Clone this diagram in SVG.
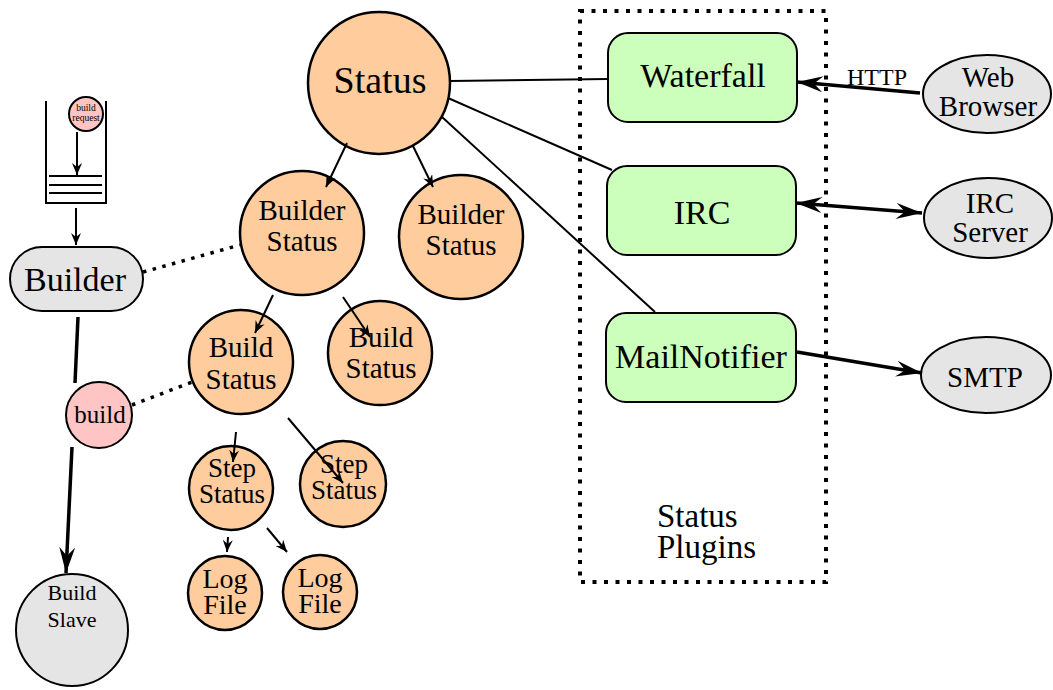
<svg xmlns="http://www.w3.org/2000/svg" width="1053" height="690" viewBox="0 0 1053 690" font-family="'Liberation Serif', 'DejaVu Serif', serif">
<defs>
<style>
text{font-family:"Liberation Serif","DejaVu Serif",serif;fill:#000;text-anchor:middle}
.st{fill:#ffcc9e;stroke:#000;stroke-width:2.5}
.pl{fill:#ccffbb;stroke:#000;stroke-width:2}
.ext{fill:#e5e5e5;stroke:#000;stroke-width:2}
.pink{fill:#ffc4c4;stroke:#000;stroke-width:2}
.thin{stroke:#000;stroke-width:2;fill:none}
.thick{stroke:#000;stroke-width:3.5;fill:none}
.dot{stroke:#000;stroke-width:3.5;fill:none;stroke-dasharray:3.5 6.5}
</style>
<marker id="a" viewBox="0 0 12 10" refX="12" refY="5" markerWidth="12" markerHeight="10" markerUnits="userSpaceOnUse" orient="auto-start-reverse">
<path d="M0,0 L12,5 L0,10 L4,5 Z" fill="#000"/>
</marker>
<marker id="b" viewBox="0 0 26 16" refX="26" refY="8" markerWidth="26" markerHeight="16" markerUnits="userSpaceOnUse" orient="auto-start-reverse">
<path d="M0,0 L26,8 L0,16 L9,8 Z" fill="#000"/>
</marker>
</defs>
<rect width="1053" height="690" fill="#fff"/>

<g id="plugins-box">
<rect x="580" y="11" width="246" height="571" fill="none" stroke="#000" stroke-width="4" stroke-dasharray="4 7.5"/>
<text x="657" y="527" font-size="33" text-anchor="start" style="text-anchor:start">Status</text>
<text x="657" y="558" font-size="33" text-anchor="start" style="text-anchor:start">Plugins</text>
</g>

<g id="queue">
<path class="thin" d="M46,101 V203 H106 V101"/>
<line class="thin" x1="49" y1="176" x2="102" y2="176"/>
<line class="thin" x1="49" y1="185" x2="102" y2="185"/>
<line class="thin" x1="49" y1="193" x2="102" y2="193"/>
</g>
<g id="build-request">
<circle class="pink" cx="86" cy="114" r="17" stroke-width="1.5"/>
<text x="86" y="111" font-size="9.5">build</text>
<text x="86" y="121" font-size="9.5">request</text>
</g>
<g id="builder">
<rect class="ext" x="10" y="247" width="133" height="64" rx="32"/>
<text x="75" y="291" font-size="34">Builder</text>
</g>
<g id="build">
<circle class="pink" cx="99" cy="415" r="33"/>
<text x="100" y="423" font-size="25">build</text>
</g>
<g id="build-slave">
<circle class="ext" cx="72" cy="630" r="56"/>
<text x="72" y="600" font-size="22">Build</text>
<text x="72" y="627" font-size="22">Slave</text>
</g>

<g id="status">
<circle class="st" cx="379" cy="83" r="71"/>
<text x="380" y="93" font-size="38">Status</text>
</g>
<g id="builder-status-1">
<circle class="st" cx="302" cy="233" r="62"/>
<text x="302" y="220" font-size="29">Builder</text>
<text x="302" y="251" font-size="29">Status</text>
</g>
<g id="builder-status-2">
<circle class="st" cx="461" cy="237" r="62"/>
<text x="461" y="224" font-size="29">Builder</text>
<text x="461" y="255" font-size="29">Status</text>
</g>
<g id="build-status-1">
<circle class="st" cx="241" cy="362" r="52"/>
<text x="241" y="357" font-size="29">Build</text>
<text x="241" y="389" font-size="29">Status</text>
</g>
<g id="build-status-2">
<circle class="st" cx="380" cy="353" r="52"/>
<text x="381" y="347" font-size="29">Build</text>
<text x="381" y="378" font-size="29">Status</text>
</g>
<g id="step-status-1">
<circle class="st" cx="231" cy="488" r="42"/>
<text x="232" y="477" font-size="27">Step</text>
<text x="232" y="503" font-size="27">Status</text>
</g>
<g id="step-status-2">
<circle class="st" cx="343" cy="484" r="43"/>
<text x="344" y="473" font-size="27">Step</text>
<text x="344" y="499" font-size="27">Status</text>
</g>
<g id="log-file-1">
<circle class="st" cx="225" cy="593" r="37"/>
<text x="225" y="588" font-size="28">Log</text>
<text x="225" y="614" font-size="28">File</text>
</g>
<g id="log-file-2">
<circle class="st" cx="320" cy="592" r="37"/>
<text x="320" y="587" font-size="28">Log</text>
<text x="320" y="613" font-size="28">File</text>
</g>

<g id="waterfall">
<rect class="pl" x="608" y="33" width="189" height="89" rx="20"/>
<text x="703" y="87" font-size="34">Waterfall</text>
</g>
<g id="irc">
<rect class="pl" x="607" y="166" width="189" height="89" rx="20"/>
<text x="702" y="224" font-size="34">IRC</text>
</g>
<g id="mailnotifier">
<rect class="pl" x="606" y="313" width="190" height="89" rx="20"/>
<text x="701" y="368" font-size="34">MailNotifier</text>
</g>

<g id="web-browser">
<ellipse class="ext" cx="987" cy="94" rx="64" ry="39"/>
<text x="988" y="87" font-size="29">Web</text>
<text x="988" y="116" font-size="29">Browser</text>
</g>
<g id="irc-server">
<ellipse class="ext" cx="988" cy="218" rx="64" ry="40"/>
<text x="990" y="213" font-size="29">IRC</text>
<text x="990" y="242" font-size="29">Server</text>
</g>
<g id="smtp">
<ellipse class="ext" cx="986" cy="375" rx="65" ry="38"/>
<text x="985" y="387" font-size="29">SMTP</text>
</g>

<g id="connectors">
<line class="thin" x1="450" y1="81" x2="608" y2="79"/>
<line class="thin" x1="448" y1="98" x2="612" y2="170"/>
<line class="thin" x1="442" y1="117" x2="655" y2="312"/>
<line class="thin" x1="347" y1="143" x2="326" y2="187" marker-end="url(#a)"/>
<line class="thin" x1="413" y1="146" x2="433" y2="187" marker-end="url(#a)"/>
<line class="thin" x1="273" y1="295" x2="255" y2="333" marker-end="url(#a)"/>
<line class="thin" x1="343" y1="297" x2="370" y2="337" marker-end="url(#a)"/>
<line class="thin" x1="236" y1="432" x2="233" y2="462" marker-end="url(#a)"/>
<line class="thin" x1="288" y1="418" x2="343" y2="483" marker-end="url(#a)"/>
<line class="thin" x1="228" y1="537" x2="227" y2="552" marker-end="url(#a)"/>
<line class="thin" x1="267" y1="528" x2="287" y2="552" marker-end="url(#a)"/>
<line class="thin" x1="77" y1="132" x2="77" y2="175" marker-end="url(#a)"/>
<line class="thin" x1="76" y1="208" x2="76" y2="245" marker-end="url(#a)"/>
<line class="thick" x1="78" y1="317" x2="75" y2="383"/>
<line class="thick" x1="72" y1="447" x2="66" y2="573" marker-end="url(#b)"/>
<line class="dot" x1="143" y1="272" x2="240" y2="245"/>
<line class="dot" x1="132" y1="405" x2="192" y2="382"/>
<line class="thick" x1="920" y1="93" x2="797" y2="82" marker-end="url(#b)"/>
<line class="thick" x1="796" y1="203" x2="922" y2="213" marker-start="url(#b)" marker-end="url(#b)"/>
<line class="thick" x1="797" y1="352" x2="922" y2="373" marker-end="url(#b)"/>
<text x="877" y="85" font-size="24">HTTP</text>
</g>
</svg>
